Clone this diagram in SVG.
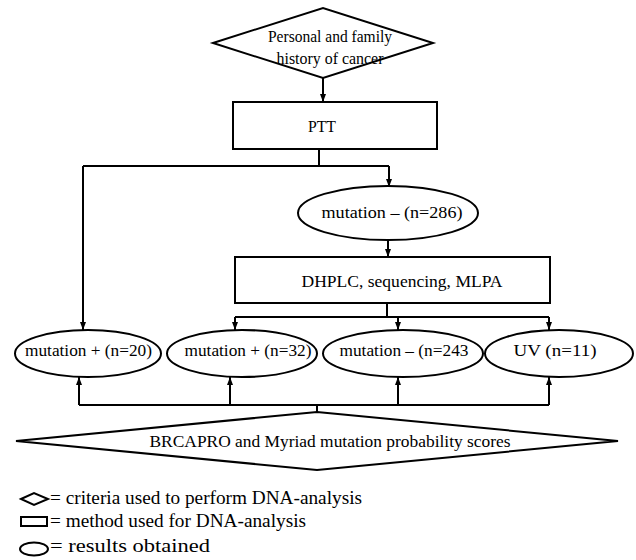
<svg xmlns="http://www.w3.org/2000/svg" width="636" height="560" viewBox="0 0 636 560">
<style>
.s{fill:#fff;stroke:#000;stroke-width:2}
.c{fill:none;stroke:#000;stroke-width:2}
text{font-family:'Liberation Serif','Times New Roman',serif;font-size:17px;fill:#000}
.m{text-anchor:middle}
</style>
<defs>
<marker id="a" viewBox="0 0 8 8" refX="8" refY="4" markerWidth="8" markerHeight="8" markerUnits="userSpaceOnUse" orient="auto">
<path d="M0,1 L8,4 L0,7 Z" fill="#000"/>
</marker>
</defs>
<rect width="636" height="560" fill="#fff"/>
<g id="connectors">
<path class="c" d="M323,78 V102" marker-end="url(#a)"/>
<path class="c" d="M319,149 V166 M83,166 H389"/>
<path class="c" d="M83,166 V330" marker-end="url(#a)"/>
<path class="c" d="M389,166 V187" marker-end="url(#a)"/>
<path class="c" d="M388,240 V257" marker-end="url(#a)"/>
<path class="c" d="M387,303 V317 M235,317 H549"/>
<path class="c" d="M235,317 V330" marker-end="url(#a)"/>
<path class="c" d="M398,317 V330" marker-end="url(#a)"/>
<path class="c" d="M549,317 V330" marker-end="url(#a)"/>
<path class="c" d="M317,412 V405 M79,405 H549"/>
<path class="c" d="M79,405 V377" marker-end="url(#a)"/>
<path class="c" d="M230,405 V377" marker-end="url(#a)"/>
<path class="c" d="M398,405 V377" marker-end="url(#a)"/>
<path class="c" d="M549,405 V377" marker-end="url(#a)"/>
</g>
<g id="history">
<polygon class="s" points="213,43 323,8 433,43 323,78"/>
<text class="m" x="330" y="42" style="font-size:16px" textLength="124" lengthAdjust="spacingAndGlyphs">Personal and family</text>
<text class="m" x="330" y="64" style="font-size:16px" textLength="107" lengthAdjust="spacingAndGlyphs">history of cancer</text>
</g>
<g id="ptt">
<rect class="s" x="233" y="102" width="204" height="47"/>
<text class="m" x="322" y="132" style="font-size:16px" textLength="28" lengthAdjust="spacingAndGlyphs">PTT</text>
</g>
<g id="neg286">
<ellipse class="s" cx="388" cy="213" rx="90" ry="27"/>
<text class="m" x="392" y="218" textLength="141" lengthAdjust="spacingAndGlyphs">mutation – (n=286)</text>
</g>
<g id="dhplc">
<rect class="s" x="235" y="257" width="315" height="46"/>
<text class="m" x="402" y="287" textLength="201" lengthAdjust="spacingAndGlyphs">DHPLC, sequencing, MLPA</text>
</g>
<g id="pos20">
<ellipse class="s" cx="88" cy="353.5" rx="73" ry="23.5"/>
<text class="m" x="88.5" y="356" textLength="127" lengthAdjust="spacingAndGlyphs">mutation + (n=20)</text>
</g>
<g id="pos32">
<ellipse class="s" cx="242" cy="353.5" rx="75" ry="23.5"/>
<text class="m" x="248" y="356" textLength="127" lengthAdjust="spacingAndGlyphs">mutation + (n=32)</text>
</g>
<g id="neg243">
<ellipse class="s" cx="403" cy="353.5" rx="80" ry="23.5"/>
<text class="m" x="404" y="356" textLength="129" lengthAdjust="spacingAndGlyphs">mutation – (n=243</text>
</g>
<g id="uv">
<ellipse class="s" cx="559" cy="353.5" rx="74" ry="23.5"/>
<text class="m" x="555" y="356" textLength="83" lengthAdjust="spacingAndGlyphs">UV (n=11)</text>
</g>
<g id="brcapro">
<polygon class="s" points="16,441 317,412 618,441 317,470"/>
<text class="m" x="330" y="447" textLength="361" lengthAdjust="spacingAndGlyphs">BRCAPRO and Myriad mutation probability scores</text>
</g>
<g id="legend">
<polygon class="s" points="21,499 34,493 48,499 34,505"/>
<text x="50" y="504" style="font-size:18px" textLength="312" lengthAdjust="spacingAndGlyphs">= criteria used to perform DNA-analysis</text>
<rect class="s" x="21" y="517" width="26" height="9"/>
<text x="50" y="527" style="font-size:18px" textLength="256" lengthAdjust="spacingAndGlyphs">= method used for DNA-analysis</text>
<ellipse class="s" cx="34" cy="549" rx="14" ry="6.5"/>
<text x="50" y="552" style="font-size:18px" textLength="160" lengthAdjust="spacingAndGlyphs">= results obtained</text>
</g>
</svg>
